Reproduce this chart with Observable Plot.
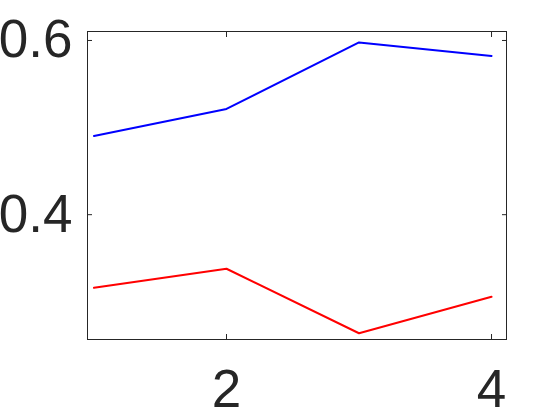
<!DOCTYPE html>
<html>
<head>
<meta charset="utf-8">
<script src="https://cdn.jsdelivr.net/npm/d3@7"></script>
<script src="https://cdn.jsdelivr.net/npm/@observablehq/plot@0.6"></script>
<style>
  html, body { margin: 0; padding: 0; background: #fff; }
</style>
</head>
<body>
<div id="chart"></div>
<script>
const xs = [1, 2, 3, 4];
const blueValues = [0.4903, 0.5214, 0.5977, 0.5823];
const redValues = [0.3161, 0.3379, 0.2639, 0.3057];
const xTicks = [2, 4];
const yTicks = [0.4, 0.6];
const xDomain = [0.951, 4.113];
const yDomain = [0.2567, 0.6103];

const blue = xs.map((x, i) => ({x, y: blueValues[i]}));
const red = xs.map((x, i) => ({x, y: redValues[i]}));

const ink = "#262626";
const chart = Plot.plot({
  width: 560,
  height: 420,
  marginLeft: 87,
  marginRight: 54,
  marginTop: 31,
  marginBottom: 81,
  style: {fontFamily: "Liberation Sans, Arial, sans-serif", background: "#fff", color: ink},
  x: {domain: xDomain, label: null},
  y: {domain: yDomain, label: null},
  marks: [
    Plot.frame({stroke: ink, strokeWidth: 1}),
    Plot.axisX({anchor: "bottom", ticks: xTicks, tickSize: -5, tickFormat: () => "", stroke: ink, label: null}),
    Plot.axisX({anchor: "top", ticks: xTicks, tickSize: -5, tickFormat: () => "", stroke: ink, label: null}),
    Plot.axisY({anchor: "left", ticks: yTicks, tickSize: -5, tickFormat: () => "", stroke: ink, label: null}),
    Plot.axisY({anchor: "right", ticks: yTicks, tickSize: -5, tickFormat: () => "", stroke: ink, label: null}),
    Plot.axisX({anchor: "bottom", ticks: xTicks, tickSize: 0, tickPadding: 30, fontSize: 53, fill: ink, tickFormat: d3.format("d"), label: null}),
    Plot.axisY({anchor: "left", ticks: yTicks, tickSize: 0, tickPadding: 15, fontSize: 53, fill: ink, tickFormat: d3.format(".1f"), label: null}),
    Plot.line(blue, {x: "x", y: "y", stroke: "#0000ff", strokeWidth: 2}),
    Plot.line(red, {x: "x", y: "y", stroke: "#ff0000", strokeWidth: 2})
  ]
});
document.getElementById("chart").appendChild(chart);
</script>
</body>
</html>
